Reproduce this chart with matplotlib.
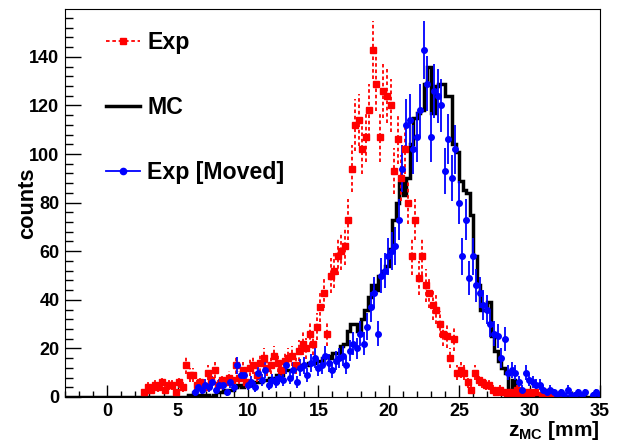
import numpy as np
import matplotlib
matplotlib.use('Agg')
import matplotlib.pyplot as plt
from matplotlib.lines import Line2D
from matplotlib.ticker import MultipleLocator

plt.rcParams['font.family'] = ['Liberation Sans', 'DejaVu Sans']
plt.rcParams['font.weight'] = 'bold'
plt.rcParams['mathtext.fontset'] = 'custom'
plt.rcParams['mathtext.rm'] = 'Liberation Sans:bold'
plt.rcParams['mathtext.bf'] = 'Liberation Sans:bold'
plt.rcParams['mathtext.it'] = 'Liberation Sans:bold'

bin_width = 0.25  # mm

# measured z distribution, bins start at 2.5 mm
exp_start = 2.5
exp_counts = [
    2, 4, 3, 5, 4, 6, 3, 5, 5, 2, 6, 4,
    13, 9, 9, 5, 6, 4, 10, 7, 11, 5, 7, 6,
    8, 7, 13, 8, 11, 6, 12, 13, 9, 14, 16, 12,
    13, 17, 14, 11, 15, 16, 17, 13, 19, 22, 20, 26,
    22, 29, 37, 43, 26, 50, 52, 58, 60, 62, 73,
    94, 112, 114, 102, 107, 118, 143, 129, 107, 126, 124, 120,
    93, 106, 90, 102, 80, 58, 73, 49, 58, 46, 43, 38,
    36, 30, 26, 25, 16, 24, 10, 11, 10, 6, 3, 10,
    7, 6, 5, 5, 3, 2, 3, 2, 1, 2, 1, 3,
    1, 1, 2, 1, 2, 0, 1, 2, 1, 1, 0, 1,
    0, 0, 0, 0, 0, 0, 0, 0, 0, 0,
]

# same data moved along z
shift_mm = 3.6

# simulation, bins start at -3 mm
mc_start = -3.0
mc_counts = [0] * 34 + [
    0, 1, 0, 1, 0, 1, 1, 0, 1, 2, 2, 3,
    3, 3, 4, 5, 4, 5, 5, 6, 6, 6, 7, 7,
    8, 8, 9, 9, 11, 11, 11, 12, 12, 13, 13, 14,
    14, 15, 15, 16, 17, 16, 18, 18, 21, 22, 27, 30,
    30, 27, 32, 36, 41, 46, 44, 50, 52, 54, 61, 73,
    80, 88, 83, 90, 104, 115, 117, 118, 129, 136, 117, 128,
    129, 129, 124, 124, 104, 101, 89, 85, 84, 75, 58, 46,
    36, 36, 39, 25, 19, 15, 12, 10, 3, 7, 3, 3,
    1, 1, 1, 0, 1, 0, 0, 1,
    0, 0, 0, 0, 0, 0, 0, 0, 0, 0, 0, 0, 0, 0,
]

exp_counts = np.array(exp_counts, dtype=float)
mc_counts = np.array(mc_counts, dtype=float)
exp_x = exp_start + bin_width * (np.arange(len(exp_counts)) + 0.5)
mc_edges = mc_start + bin_width * np.arange(len(mc_counts) + 1)

fig = plt.figure(figsize=(6.28, 4.41), dpi=100)
ax = fig.add_axes([0.1035, 0.0998, 0.8518, 0.8798])

ok = exp_counts > 0
err = np.sqrt(exp_counts[ok])

# Exp
eb = ax.errorbar(exp_x[ok], exp_counts[ok], yerr=err, xerr=bin_width / 2,
                 fmt='s', color='red', ms=4, elinewidth=1.3, capsize=0)
for lc in eb[2]:
    lc.set_linestyle((0, (2, 1.5)))

# MC
ax.stairs(mc_counts, mc_edges, color='black', lw=2.5, baseline=None)

# Exp [Moved]
moved_x = exp_x[ok] + shift_mm
keep = moved_x < 35
ax.errorbar(moved_x[keep], exp_counts[ok][keep], yerr=err[keep],
            xerr=bin_width / 2, fmt='o', color='blue', ms=4,
            elinewidth=1.3, capsize=0)

ax.set_xlim(-3, 35)
ax.set_ylim(0, 159.7)
ax.xaxis.set_major_locator(MultipleLocator(5))
ax.xaxis.set_minor_locator(MultipleLocator(1))
ax.yaxis.set_major_locator(MultipleLocator(20))
ax.yaxis.set_minor_locator(MultipleLocator(4))
ax.tick_params(which='both', direction='in', top=False, right=False,
               labelsize=13, width=1)
ax.tick_params(axis='y', which='major', length=11.5, pad=4)
ax.tick_params(axis='y', which='minor', length=5.7)
ax.tick_params(axis='x', which='major', length=8.5, pad=4)
ax.tick_params(axis='x', which='minor', length=4)
for lab in ax.get_xticklabels() + ax.get_yticklabels():
    lab.set_fontweight('bold')

ax.set_ylabel('counts', fontsize=15.7, fontweight='bold')
ax.yaxis.set_label_coords(-0.05, 0.5)
ax.set_xlabel(r'$\mathregular{z_{MC}}$ [mm]', fontsize=15,
              fontweight='bold', ha='right')
ax.xaxis.set_label_coords(1.0, -0.057)

handles = [
    Line2D([], [], color='red', ls=(0, (2, 1.5)), lw=1.3, marker='s', ms=5),
    Line2D([], [], color='black', lw=2.5),
    Line2D([], [], color='blue', lw=1.3, marker='o', ms=4.5),
]
ax.legend(handles, ['Exp', 'MC', 'Exp [Moved]'], loc='upper left',
          bbox_to_anchor=(0.077, 0.942), frameon=False,
          prop={'size': 16.7, 'weight': 'bold'}, labelspacing=1.8,
          handlelength=1.44, handletextpad=0.34, borderpad=0,
          borderaxespad=0)

fig.savefig('out.png', dpi=100)
